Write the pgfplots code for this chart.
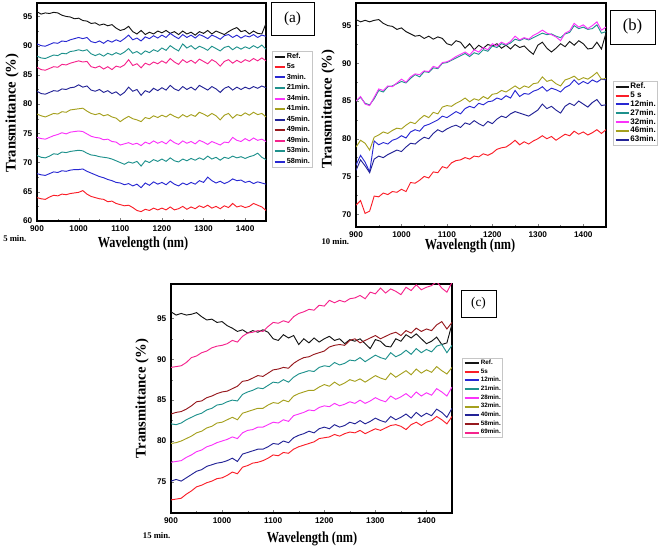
\documentclass[border=0pt]{standalone}
\usepackage{pgfplots}
\pgfplotsset{compat=1.18}
\usepackage{pgfplotstable}
\usepackage{fontspec}
\setmainfont{Liberation Serif}
\newfontfamily\arial{Liberation Sans}

\definecolor{cref}{RGB}{20,20,20}
\definecolor{cred}{RGB}{250,30,40}
\definecolor{cblue}{RGB}{40,40,210}
\definecolor{cnavy}{RGB}{35,35,150}
\definecolor{cteal}{RGB}{30,145,140}
\definecolor{cmag}{RGB}{250,50,250}
\definecolor{cpink}{RGB}{245,35,140}
\definecolor{colive}{RGB}{165,160,30}
\definecolor{cwine}{RGB}{150,25,30}

% panel (a): 5 min.
\pgfplotstableread{
wl ref r5 b3 t21 m34 o41 n45 p49 t53 b58
900 95.8 64.0 90.3 88.2 74.3 78.3 82.2 86.3 71.2 68.1
910 95.4 63.8 90.0 87.9 74.1 78.0 81.8 85.9 70.9 67.9
920 95.6 63.7 89.9 87.8 74.0 77.8 81.7 85.8 70.8 67.8
930 95.5 64.1 90.2 88.1 74.3 78.1 82.0 86.1 71.1 68.1
940 95.7 64.4 90.5 88.4 74.6 78.4 82.3 86.4 71.5 68.4
950 95.6 64.3 90.4 88.3 74.8 78.3 82.2 86.3 71.4 68.3
960 95.2 64.6 90.8 88.7 75.1 78.7 82.6 86.8 71.8 68.6
970 95.0 64.5 90.7 88.6 74.9 78.6 82.5 86.7 71.7 68.5
980 94.9 64.7 91.0 89.0 75.2 79.0 82.8 87.0 71.9 68.7
990 94.6 64.8 91.2 89.1 75.3 79.1 82.9 87.2 72.0 68.8
1000 94.7 64.9 91.4 89.3 75.4 79.2 83.3 87.4 72.1 68.8
1010 94.3 65.2 91.2 89.1 75.3 79.3 82.9 87.2 72.0 68.9
1020 94.2 64.6 91.4 89.3 74.9 78.8 83.1 87.3 71.6 68.5
1030 93.8 64.2 90.7 88.6 74.5 78.4 82.4 86.4 71.3 68.2
1040 93.9 64.0 90.5 88.3 74.3 78.2 82.2 86.2 71.2 67.9
1050 93.5 63.8 90.8 88.6 74.2 78.4 82.5 86.5 71.0 67.6
1060 93.7 63.7 90.4 88.2 73.9 78.0 82.0 86.0 70.9 67.4
1070 93.4 63.3 90.9 88.7 74.0 78.2 82.3 86.4 70.8 67.1
1080 93.6 63.4 90.6 88.4 73.6 77.8 81.8 85.9 70.6 66.9
1090 93.0 63.0 91.0 88.8 73.5 77.6 82.1 86.5 70.3 66.6
1100 92.6 62.8 90.7 88.5 73.0 77.0 81.5 86.3 70.0 66.5
1110 92.8 62.6 91.2 88.9 73.2 77.5 82.0 86.7 69.7 66.2
1120 93.3 62.7 91.8 89.5 73.4 77.9 82.9 87.6 70.1 66.4
1130 92.4 62.3 91.0 88.7 73.1 77.5 82.2 86.6 69.9 66.0
1140 92.0 61.8 91.3 89.0 73.3 77.3 82.5 86.9 70.2 66.3
1150 92.6 61.6 90.8 88.5 72.9 77.0 81.5 86.2 69.4 65.7
1160 91.9 62.0 91.5 89.1 73.5 77.7 82.3 87.0 70.3 66.5
1170 92.3 61.8 91.2 88.8 73.2 77.5 82.0 86.7 70.0 66.1
1180 92.0 62.2 91.7 89.3 73.7 78.0 82.7 87.2 70.5 66.7
1190 92.5 61.9 91.3 89.0 73.3 77.7 82.3 86.9 70.2 66.3
1200 92.2 62.2 91.8 89.6 73.6 78.1 82.8 87.4 70.6 66.6
1210 92.6 61.9 91.4 89.2 73.2 77.8 82.4 87.0 70.2 66.2
1220 92.1 62.4 92.1 90.0 73.9 78.3 83.2 87.8 70.8 66.8
1230 92.4 61.9 91.6 89.5 73.4 77.9 82.6 87.2 70.3 66.3
1240 91.9 62.1 91.2 89.1 73.1 77.6 82.3 86.8 70.1 66.0
1250 92.5 62.5 91.9 90.3 73.7 78.2 83.0 87.6 70.6 66.5
1260 92.0 62.0 91.4 89.6 73.3 77.8 82.5 87.1 70.3 66.2
1270 92.3 62.4 91.8 90.0 73.6 78.2 82.9 87.5 70.7 66.6
1280 91.8 62.1 91.3 89.4 73.2 77.9 82.4 87.0 70.4 66.3
1290 92.4 62.6 91.9 89.9 73.8 78.6 83.2 87.7 70.8 66.9
1300 92.1 62.3 91.6 89.6 73.5 78.3 82.8 87.3 70.5 66.6
1310 92.6 62.7 91.2 89.2 73.1 77.9 82.4 86.9 71.1 67.5
1320 92.0 62.2 91.8 89.9 73.6 78.4 83.0 87.6 70.6 66.9
1330 92.5 62.5 91.5 89.5 73.3 78.0 82.6 87.2 70.9 66.5
1340 92.2 62.1 91.1 89.1 73.0 77.3 82.0 86.5 70.4 66.8
1350 91.9 62.6 91.7 89.7 73.5 78.1 82.7 87.3 70.9 66.4
1360 92.4 62.3 91.9 89.9 73.4 78.4 83.0 87.6 70.7 66.7
1370 92.8 63.0 91.4 89.3 74.3 77.6 82.4 87.0 71.1 67.2
1380 93.1 62.4 91.8 89.8 73.8 78.2 82.9 87.5 70.8 66.9
1390 92.4 62.6 91.3 89.4 73.6 78.0 82.5 87.1 71.0 67.0
1400 92.6 62.3 91.7 89.8 74.1 78.5 82.9 87.6 70.7 66.6
1410 92.0 62.5 91.5 89.5 73.7 78.1 82.6 87.3 71.0 66.8
1420 92.5 63.0 91.9 90.0 74.2 78.6 83.0 87.8 71.2 66.4
1430 92.1 62.7 91.4 89.6 73.8 78.2 82.7 87.4 71.6 66.7
1440 92.0 62.4 91.8 90.1 74.0 78.4 83.1 87.9 70.9 66.5
1450 93.8 61.8 91.6 89.4 73.6 77.8 82.8 87.4 70.5 66.3
}\taba

% panel (b): 10 min.
\pgfplotstableread{
wl ref r5 b12 t27 m32 o46 n63
900 95.8 71.2 76.5 85.0 85.0 78.9 75.8
910 95.5 71.8 77.8 85.5 85.6 79.8 77.2
920 95.7 70.1 76.9 84.7 84.6 79.4 76.4
930 95.5 70.4 75.6 84.5 84.4 78.5 75.5
940 95.7 72.4 79.7 85.3 85.5 80.2 77.3
950 95.8 72.3 79.2 86.4 86.6 80.5 77.7
960 95.3 72.8 79.5 86.2 86.4 80.9 77.5
970 95.0 72.6 79.3 86.9 87.0 80.7 77.9
980 94.9 73.0 79.8 87.0 86.9 81.1 78.2
990 94.5 72.9 80.0 87.3 87.4 81.4 78.5
1000 94.7 73.3 80.4 87.6 87.9 81.3 78.3
1010 94.2 73.0 80.1 87.4 87.5 81.8 78.9
1020 93.9 74.2 80.9 88.0 88.2 82.2 79.4
1030 93.6 74.1 81.2 88.5 88.6 82.0 79.3
1040 93.7 74.5 81.0 88.2 88.5 82.6 79.8
1050 93.3 75.0 81.7 88.9 89.0 83.1 80.2
1060 93.6 74.8 81.9 88.8 88.9 82.8 80.0
1070 93.2 75.6 82.2 89.4 89.6 83.5 80.7
1080 93.5 75.5 82.5 89.3 89.4 83.3 81.2
1090 93.3 76.3 83.0 90.0 90.1 84.2 80.9
1100 92.6 76.1 82.8 90.1 90.2 84.4 81.3
1110 92.4 76.8 83.2 90.4 90.5 84.3 81.6
1120 93.0 77.1 83.6 90.7 90.9 84.7 81.8
1130 92.8 77.2 83.3 91.0 91.2 85.0 81.5
1140 92.0 77.5 84.0 91.3 91.5 85.4 82.1
1150 92.6 77.3 84.3 90.9 91.1 84.9 81.9
1160 91.8 77.7 84.1 91.4 91.8 85.3 82.4
1170 92.4 77.6 84.7 91.2 91.5 85.1 82.0
1180 92.0 78.0 84.5 91.8 92.1 85.6 81.7
1190 92.5 77.8 84.9 91.6 91.8 85.3 82.3
1200 92.3 78.1 85.0 92.3 92.6 85.9 82.0
1210 92.6 78.6 85.4 92.1 92.3 86.0 82.6
1220 92.0 78.8 85.2 92.6 92.8 86.4 83.0
1230 92.4 78.9 85.7 92.4 92.5 86.2 82.8
1240 91.9 79.3 85.4 92.7 92.9 86.6 83.3
1250 92.5 79.8 86.4 93.2 93.6 87.0 83.6
1260 92.1 79.2 85.6 93.0 93.1 86.6 83.4
1270 92.3 79.6 86.0 93.3 93.4 87.0 83.2
1280 91.7 79.3 85.9 93.1 93.2 86.8 83.0
1290 91.2 79.7 86.3 93.4 93.7 87.3 83.4
1300 92.4 80.0 86.5 93.7 94.0 87.4 83.8
1310 92.8 80.4 86.9 94.0 94.4 88.2 84.6
1320 92.0 80.0 86.3 93.8 94.0 87.6 84.0
1330 91.5 80.3 86.7 93.9 93.8 87.8 84.3
1340 92.0 79.8 86.5 93.6 93.5 87.3 83.8
1350 92.6 80.2 86.2 93.4 93.0 87.0 83.4
1360 92.2 80.6 86.8 93.9 94.0 87.8 84.3
1370 92.9 80.4 87.1 94.1 94.3 88.0 84.7
1380 92.4 81.0 87.8 95.0 95.3 88.3 84.4
1390 93.0 80.6 87.2 94.6 94.8 87.8 85.0
1400 92.6 80.9 87.6 94.8 95.1 88.1 84.6
1410 91.9 80.5 87.3 94.5 94.6 87.9 84.2
1420 92.0 80.8 87.8 94.6 95.0 88.3 84.8
1430 92.8 81.2 87.5 95.1 95.5 88.8 85.2
1440 91.9 80.7 87.9 94.0 94.4 87.9 84.4
1450 94.0 81.2 87.8 94.2 94.8 88.0 84.5
}\tabb

% panel (c): 15 min.
\pgfplotstableread{
wl ref r5 t21 m28 o32 b40 w58 p69
900 95.8 72.8 82.1 77.4 79.7 75.1 83.3 89.0
910 95.4 72.9 82.0 77.5 79.8 75.3 83.5 89.1
920 95.6 73.0 82.2 77.6 80.0 75.1 83.6 89.2
930 95.4 73.5 82.6 78.0 80.3 75.5 83.9 89.6
940 95.5 73.9 82.9 78.3 80.6 75.9 84.3 90.2
950 95.7 74.4 83.2 78.7 81.0 76.3 84.8 90.4
960 95.2 74.6 83.4 78.9 81.2 76.5 84.9 90.8
970 94.8 74.9 83.8 79.3 81.6 76.9 85.3 91.0
980 94.9 75.1 84.0 79.5 81.8 77.1 85.5 91.4
990 94.5 75.4 84.4 79.8 82.2 77.3 85.8 91.6
1000 94.6 75.5 84.5 80.0 82.3 77.4 86.0 91.7
1010 94.1 75.8 84.8 80.2 82.6 77.6 86.1 91.9
1020 93.8 76.2 85.0 80.5 82.9 77.9 86.4 92.3
1030 93.4 76.0 84.9 80.3 82.6 77.5 86.7 92.1
1040 93.6 76.8 85.7 81.0 83.4 78.4 87.3 92.8
1050 93.2 77.0 86.0 81.3 83.6 78.6 87.4 93.2
1060 93.5 77.3 86.2 81.4 83.8 78.8 87.7 93.3
1070 93.3 77.4 86.5 81.7 84.0 79.0 88.0 93.5
1080 93.6 77.6 86.4 81.7 84.0 79.0 87.9 93.4
1090 93.3 77.9 86.8 82.0 84.4 79.3 88.3 94.0
1100 92.5 78.3 87.2 82.3 84.7 79.7 88.7 94.5
1110 92.3 78.2 87.1 82.2 84.6 79.6 88.8 94.4
1120 93.0 78.6 87.5 82.6 85.0 80.0 89.0 94.7
1130 92.6 78.5 87.2 82.4 84.8 79.8 88.9 94.5
1140 92.9 79.0 87.8 83.1 85.5 80.4 89.5 95.2
1150 91.8 79.3 88.2 83.3 85.8 80.7 89.9 95.6
1160 92.5 79.5 88.4 83.5 86.0 80.9 90.2 95.8
1170 92.0 79.7 88.6 83.8 86.2 81.2 90.3 96.1
1180 92.6 79.9 88.5 83.7 86.2 81.0 90.6 96.0
1190 92.1 80.3 89.0 84.1 86.6 81.5 90.8 96.6
1200 92.5 80.4 89.2 84.3 86.9 81.7 91.0 96.5
1210 92.8 80.5 89.1 84.2 86.7 81.5 91.5 97.2
1220 92.3 80.8 89.6 84.6 87.2 82.0 91.7 96.9
1230 92.5 80.6 89.3 84.3 86.8 81.7 91.8 97.2
1240 91.9 80.9 89.5 84.5 87.1 81.9 91.7 97.0
1250 92.4 81.1 89.9 84.8 87.5 82.3 92.3 97.4
1260 92.2 81.0 89.8 84.6 87.3 82.1 92.5 97.5
1270 92.5 81.3 90.2 85.0 87.6 82.5 92.0 97.8
1280 91.9 80.9 89.7 84.6 87.2 82.1 92.3 97.4
1290 91.3 81.2 90.1 84.9 87.6 82.4 92.6 98.2
1300 92.4 81.5 90.5 85.3 88.0 82.8 92.9 98.0
1310 92.2 81.3 90.2 85.0 87.7 82.5 92.5 98.7
1320 91.6 81.6 90.0 84.8 87.5 82.3 92.8 98.1
1330 91.5 81.9 90.8 85.5 88.3 83.0 93.1 98.6
1340 92.5 82.0 90.3 85.1 87.8 82.6 93.3 98.3
1350 92.2 81.8 90.6 85.4 88.2 82.9 92.9 97.9
1360 93.0 81.4 91.1 85.8 88.6 83.3 93.5 98.8
1370 92.6 82.0 90.6 85.3 88.1 82.8 93.2 98.4
1380 93.1 82.3 91.3 86.0 88.8 83.5 93.8 99.1
1390 92.5 81.9 90.8 85.5 88.3 83.0 93.4 98.5
1400 91.9 82.3 91.2 85.9 88.7 83.4 93.7 98.8
1410 92.2 82.5 90.9 85.6 88.4 83.1 93.5 99.0
1420 92.7 83.0 91.6 86.4 89.1 83.9 94.2 99.5
1430 91.8 82.6 91.8 86.0 88.6 83.5 94.6 98.7
1440 92.0 82.1 90.8 85.5 88.2 82.9 93.7 98.2
1450 94.3 83.0 91.7 86.6 89.0 84.0 94.5 99.4
}\tabc

\pgfplotsset{
  spec/.style={
    scale only axis, anchor=south west,
    xmin=900, xmax=1450,
    xtick={900,1000,...,1400},
    minor x tick num=1, minor y tick num=1,
    tick align=inside, xtick pos=left, ytick pos=left,
    major tick length=2.5pt, minor tick length=1.5pt,
    axis line style={line width=0.9pt},
    /pgf/number format/assume math mode=true,
    /pgf/number format/1000 sep={},
    tick label style={font=\arial\bfseries\fontsize{6.2}{7}\selectfont},
    every axis plot/.append style={line width=0.7pt},
    legend cell align=left,
  },
  lbox/.style={anchor=north west, draw=gray!45, line width=0.4pt, fill=white,
    inner sep=1pt, nodes={inner sep=0.4pt}},
}

\begin{document}
\begin{tikzpicture}
\useasboundingbox (0pt,0pt) rectangle (495.75pt,411pt);

% ---- (a)
\begin{axis}[spec, at={(27.75pt,245.25pt)}, width=171.75pt, height=163.5pt,
  ymin=60, ymax=97.3, ytick={60,65,...,95},
  legend style={lbox, at={(1.026,0.78)}, row sep=1.6pt,
    font=\arial\bfseries\fontsize{5.5}{6}\selectfont},
  legend image code/.code={\draw[line width=1.5pt, #1] (0pt,0pt) -- (8pt,0pt);}]
\addplot[cref] table[x=wl,y=ref]{\taba}; \addlegendentry{Ref.}
\addplot[cred] table[x=wl,y=r5]{\taba}; \addlegendentry{5s}
\addplot[cblue] table[x=wl,y=b3]{\taba}; \addlegendentry{3min.}
\addplot[cteal] table[x=wl,y=t21]{\taba}; \addlegendentry{21min.}
\addplot[cmag] table[x=wl,y=m34]{\taba}; \addlegendentry{34min.}
\addplot[colive] table[x=wl,y=o41]{\taba}; \addlegendentry{41min.}
\addplot[cnavy] table[x=wl,y=n45]{\taba}; \addlegendentry{45min.}
\addlegendimage{cwine}\addlegendentry{49min.}
\addplot[cpink] table[x=wl,y=p49]{\taba}; \addlegendentry{49min.}
\addplot[cteal] table[x=wl,y=t53]{\taba}; \addlegendentry{53min.}
\addplot[cblue] table[x=wl,y=b58]{\taba}; \addlegendentry{58min.}
\end{axis}

% ---- (b)
\begin{axis}[spec, at={(267pt,240.75pt)}, width=187.5pt, height=168pt,
  ymin=68.3, ymax=98, ytick={70,75,...,95},
  legend style={lbox, at={(1.028,0.652)}, row sep=0pt,
    font=\arial\bfseries\fontsize{6}{6}\selectfont},
  legend image code/.code={\draw[line width=1.5pt, #1] (0pt,0pt) -- (10pt,0pt);}]
\addplot[cref] table[x=wl,y=ref]{\tabb}; \addlegendentry{Ref.}
\addplot[cred] table[x=wl,y=r5]{\tabb}; \addlegendentry{5 s}
\addplot[cblue] table[x=wl,y=b12]{\tabb}; \addlegendentry{12min.}
\addplot[cteal] table[x=wl,y=t27]{\tabb}; \addlegendentry{27min.}
\addplot[cmag] table[x=wl,y=m32]{\tabb}; \addlegendentry{32min.}
\addplot[colive] table[x=wl,y=o46]{\tabb}; \addlegendentry{46min.}
\addplot[cnavy] table[x=wl,y=n63]{\tabb}; \addlegendentry{63min.}
\end{axis}

% ---- (c)
\begin{axis}[spec, at={(128.25pt,26.25pt)}, width=210.75pt, height=171.75pt,
  ymin=71.2, ymax=99.2, ytick={75,80,...,95},
  legend style={lbox, at={(1.036,0.677)}, row sep=0.8pt,
    font=\arial\bfseries\fontsize{4.7}{5}\selectfont},
  legend image code/.code={\draw[line width=1.5pt, #1] (0pt,0pt) -- (11pt,0pt);}]
\addplot[cref] table[x=wl,y=ref]{\tabc}; \addlegendentry{Ref.}
\addplot[cred] table[x=wl,y=r5]{\tabc}; \addlegendentry{5s}
\addlegendimage{cblue}\addlegendentry{12min.}
\addplot[cteal] table[x=wl,y=t21]{\tabc}; \addlegendentry{21min.}
\addplot[cmag] table[x=wl,y=m28]{\tabc}; \addlegendentry{28min.}
\addplot[colive] table[x=wl,y=o32]{\tabc}; \addlegendentry{32min.}
\addplot[cnavy] table[x=wl,y=b40]{\tabc}; \addlegendentry{40min.}
\addplot[cwine] table[x=wl,y=w58]{\tabc}; \addlegendentry{58min.}
\addplot[cpink] table[x=wl,y=p69]{\tabc}; \addlegendentry{69min.}
\end{axis}

% panel tags
\node[draw, line width=0.6pt, minimum width=32.25pt, minimum height=24.75pt, inner sep=0pt,
  font=\fontsize{11.5}{12}\selectfont] at (219.4pt,397.1pt) {(a)};
\node[draw, line width=0.6pt, minimum width=33.75pt, minimum height=25.5pt, inner sep=0pt,
  font=\fontsize{12.5}{13}\selectfont] at (474.4pt,390.75pt) {(b)};
\node[draw, line width=0.6pt, minimum width=26.25pt, minimum height=20.25pt, inner sep=0pt,
  font=\fontsize{10}{11}\selectfont] at (358.9pt,183.4pt) {(c)};

% axis titles
\node[inner sep=0pt, font=\bfseries\fontsize{11.5}{12}\selectfont] at (107.25pt,228pt) {\scalebox{0.8}[1]{Wavelength (nm)}};
\node[inner sep=0pt, font=\bfseries\fontsize{11.5}{12}\selectfont] at (352.5pt,226.5pt) {\scalebox{0.8}[1]{Wavelength (nm)}};
\node[inner sep=0pt, font=\bfseries\fontsize{11.5}{12}\selectfont] at (234pt,6.75pt) {\scalebox{0.8}[1]{Wavelength (nm)}};
\node[inner sep=0pt, rotate=90, font=\bfseries\fontsize{11}{12}\selectfont] at (9pt,326.25pt) {Transmittance (\%)};
\node[inner sep=0pt, rotate=90, font=\bfseries\fontsize{11}{12}\selectfont] at (246pt,329.25pt) {Transmittance (\%)};
\node[inner sep=0pt, rotate=90, font=\bfseries\fontsize{11}{12}\selectfont] at (106.5pt,112.1pt) {Transmittance (\%)};

% time tags
\node[anchor=west, inner sep=0pt, font=\bfseries\fontsize{6.5}{7}\selectfont] at (2.25pt,231.75pt) {5 min.};
\node[anchor=west, inner sep=0pt, font=\bfseries\fontsize{6.5}{7}\selectfont] at (241pt,229.5pt) {10 min.};
\node[anchor=west, inner sep=0pt, font=\bfseries\fontsize{6.5}{7}\selectfont] at (107pt,9pt) {15 min.};
\end{tikzpicture}
\end{document}
